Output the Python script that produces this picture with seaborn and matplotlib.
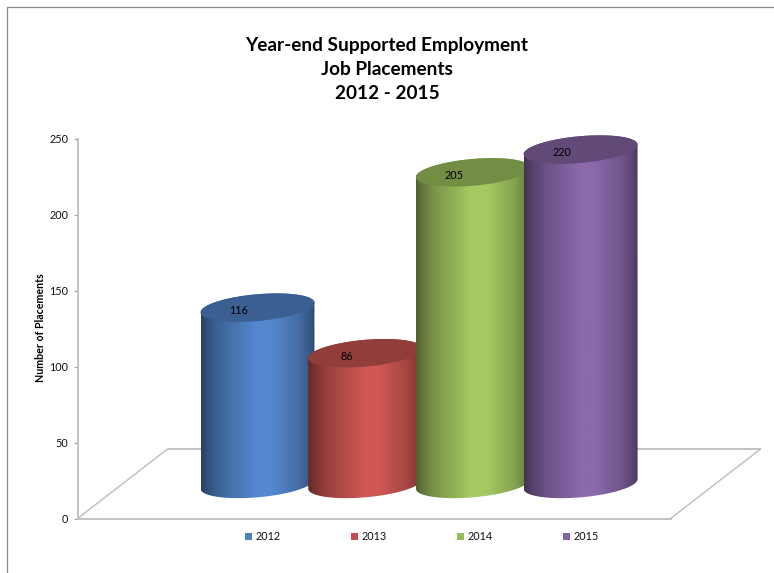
import numpy as np
import pandas as pd
import seaborn as sns
import matplotlib
matplotlib.use("Agg")
import matplotlib.pyplot as plt
from matplotlib.colors import LinearSegmentedColormap, to_rgb
from matplotlib.lines import Line2D
from matplotlib.patches import Patch, PathPatch, Polygon
from matplotlib.path import Path

# Placement counts per year
years = ["2012", "2013", "2014", "2015"]
placements = [116, 86, 205, 220]

legend_colors = ["#4f81bd", "#c0504d", "#9bbb59", "#8064a2"]
body_colors = ["#5488cf", "#cf5753", "#a6c963", "#8b69ac"]

title_text = "Year-end Supported Employment\nJob Placements\n2012 - 2015"
y_label = "Number of Placements"
y_ticks = [0, 50, 100, 150, 200, 250]

W, H = 774, 573
PX_Y = 1.52     # pixels per placement on the value axis
PX_X = 107.7    # pixels per category step

# Pseudo-3D geometry, in data units
BASE_LIFT = 22.8
FLOOR_DEPTH = 69.6 / PX_Y
FLOOR_SHIFT = 90 / PX_X
TILT = 4.8 / PX_Y
MINOR = 13.4 / PX_Y

sns.set_theme(style="ticks")
plt.rcParams["font.family"] = ["Lato", "DejaVu Sans"]

fig = plt.figure(figsize=(W / 100, H / 100), dpi=100, facecolor="white")
Y_TOP = 265
ax = fig.add_axes([77.5 / W, 1 - 518.6 / H, 593 / W, Y_TOP * PX_Y / H])
ax.set_facecolor("none")

df = pd.DataFrame({"year": years, "placements": placements})
sns.barplot(data=df, x="year", y="placements", hue="year", palette=body_colors,
            width=114 / PX_X, bottom=BASE_LIFT, legend=False, saturation=1,
            linewidth=0, ax=ax)

x_left = -180 / PX_X
x_right = x_left + 593 / PX_X
ax.set_xlim(x_left, x_right)
ax.set_ylim(0, Y_TOP)

# Shading across a cylinder: dark at the rim, brightest just past the middle
stops = [0.0, 0.05, 0.16, 0.48, 0.62, 0.86, 0.96, 1.0]
shade = [0.48, 0.58, 0.74, 1.0, 1.0, 0.80, 0.64, 0.55]


def ellipse(cx, cy, half, t):
    return np.column_stack([cx + half * np.cos(t), cy + TILT * np.cos(t) + MINOR * np.sin(t)])


for i, (bar, base) in enumerate(zip(ax.patches, body_colors)):
    half = bar.get_width() / 2
    cx = bar.get_x() + half
    lo = bar.get_y()
    hi = lo + bar.get_height()
    z = 3 + i

    outline = np.vstack([
        ellipse(cx, lo, half, np.linspace(np.pi, 2 * np.pi, 80)),
        ellipse(cx, hi, half, np.linspace(0, np.pi, 80)),
    ])
    rgb = np.array(to_rgb(base))
    cmap = LinearSegmentedColormap.from_list(
        f"cyl{i}", [(s, tuple(rgb * f)) for s, f in zip(stops, shade)])
    grad = np.linspace(0, 1, 256).reshape(1, -1)
    img = ax.imshow(grad, cmap=cmap, aspect="auto", zorder=z, interpolation="bilinear",
                    extent=[cx - half, cx + half, lo - 20, hi + 20])
    img.set_clip_path(PathPatch(Path(outline), transform=ax.transData))
    bar.set_visible(False)

    cap = ellipse(cx, hi, half, np.linspace(0, 2 * np.pi, 160))
    ax.add_patch(Polygon(cap, closed=True, facecolor=tuple(rgb * 0.70), edgecolor="none",
                         zorder=z + 0.1))
    ax.annotate(str(placements[i]), (cx, hi), xytext=(-13.5, -2), textcoords="offset points",
                ha="center", va="center", fontsize=7.8, color="black", zorder=10)

ax.set_xlim(x_left, x_right)
ax.set_ylim(0, Y_TOP)

# Floor outline behind the cylinders
floor_color = "#bdbdbd"
ax.plot([x_left + FLOOR_SHIFT, x_right + FLOOR_SHIFT], [FLOOR_DEPTH, FLOOR_DEPTH],
        color=floor_color, lw=1.3, clip_on=False, zorder=1, solid_capstyle="butt")
ax.plot([x_left, x_left + FLOOR_SHIFT], [0, FLOOR_DEPTH], color=floor_color, lw=1.0,
        clip_on=False, zorder=1)
ax.plot([x_right, x_right + FLOOR_SHIFT], [0, FLOOR_DEPTH], color=floor_color, lw=1.0,
        clip_on=False, zorder=1)

# Axes
sns.despine(ax=ax, top=True, right=True)
for side in ("left", "bottom"):
    ax.spines[side].set_color(floor_color)
    ax.spines[side].set_linewidth(1.3)
ax.spines["left"].set_bounds(0, 250)
ax.set_xticks([])
ax.set_yticks(y_ticks)
ax.tick_params(axis="y", length=3, width=0.8, color="#a6a6a6", labelsize=7.8, pad=3.5,
               labelcolor="#111111")
ax.set_xlabel("")
ax.set_ylabel("")
fig.text(41 / W, 1 - 328 / H, y_label, rotation=90, ha="center", va="center",
         fontsize=7.7, fontweight="bold", color="black")

fig.text(387 / W, 1 - 69.5 / H, title_text, ha="center", va="center", fontsize=13.7,
         fontweight="bold", color="black", linespacing=1.53)

handles = [Patch(facecolor=c, edgecolor="none", label=y) for c, y in zip(legend_colors, years)]
fig.legend(handles=handles, ncol=4, frameon=False, loc="center",
           bbox_to_anchor=(422 / W, 1 - 536.5 / H), fontsize=7.8, handlelength=0.64,
           handleheight=0.64, handletextpad=0.3, columnspacing=6.53, labelcolor="#111111")

# Frame of the surrounding page
frame = "#8a8a8a"
fig.add_artist(Line2D([6.5 / W, 6.5 / W], [0, 1 - 6.5 / H], color=frame, lw=0.9))
fig.add_artist(Line2D([6.5 / W, 1], [1 - 6.5 / H, 1 - 6.5 / H], color=frame, lw=0.9))

fig.savefig("out.png", dpi=100)
